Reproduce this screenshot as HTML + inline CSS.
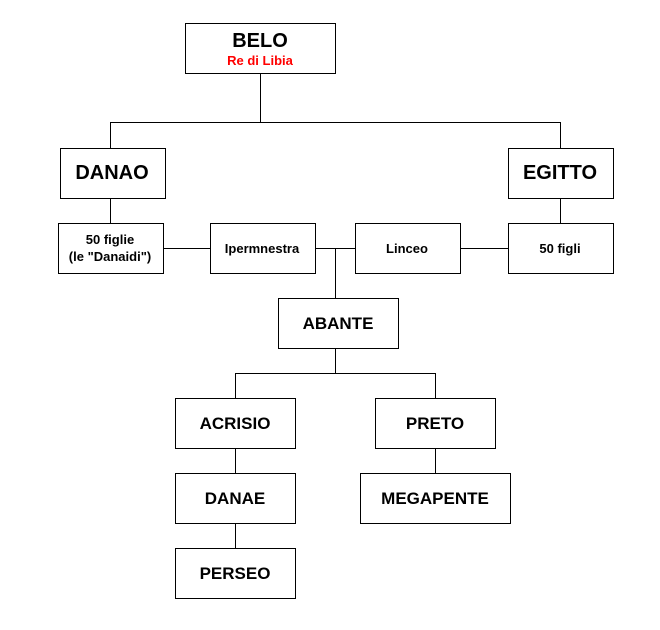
<!DOCTYPE html>
<html><head><meta charset="utf-8"><style>
html,body{margin:0;padding:0;background:#fff;}
svg{display:block;}
text{font-family:"Liberation Sans",Arial,sans-serif;font-weight:bold;text-anchor:middle;}
</style></head><body>
<svg width="660" height="630" viewBox="0 0 660 630" xmlns="http://www.w3.org/2000/svg">
<g stroke="#000" stroke-width="1" fill="none" shape-rendering="crispEdges">
<path d="M260.5 73V122.5M110.5 122.5H560.5M110.5 122V148M560.5 122V148"/>
<path d="M110.5 198V223M560.5 198V223M163 248.5H210M460 248.5H508M315 248.5H355M335.5 248V298"/>
<path d="M335.5 348V373.5M235.5 373.5H435.5M235.5 373V398M435.5 373V398"/>
<path d="M235.5 448V473M235.5 523V548M435.5 448V473"/>
</g>
<g stroke="#000" stroke-width="1" fill="#fff" shape-rendering="crispEdges">
<rect x="185.5" y="23.5" width="150" height="50"/>
<rect x="60.5" y="148.5" width="105" height="50"/>
<rect x="508.5" y="148.5" width="105" height="50"/>
<rect x="58.5" y="223.5" width="105" height="50"/>
<rect x="210.5" y="223.5" width="105" height="50"/>
<rect x="355.5" y="223.5" width="105" height="50"/>
<rect x="508.5" y="223.5" width="105" height="50"/>
<rect x="278.5" y="298.5" width="120" height="50"/>
<rect x="175.5" y="398.5" width="120" height="50"/>
<rect x="375.5" y="398.5" width="120" height="50"/>
<rect x="175.5" y="473.5" width="120" height="50"/>
<rect x="360.5" y="473.5" width="150" height="50"/>
<rect x="175.5" y="548.5" width="120" height="50"/>
</g>
<text x="260" y="47" font-size="20">BELO</text>
<text x="260" y="65" font-size="13" fill="#f00">Re di Libia</text>
<text x="112" y="179" font-size="20">DANAO</text>
<text x="560" y="179" font-size="20">EGITTO</text>
<text x="110" y="244" font-size="13">50 figlie</text>
<text x="110" y="261" font-size="13">(le "Danaidi")</text>
<text x="262" y="253" font-size="13">Ipermnestra</text>
<text x="407" y="253" font-size="13">Linceo</text>
<text x="560" y="253" font-size="13">50 figli</text>
<text x="338" y="329" font-size="17">ABANTE</text>
<text x="235" y="429" font-size="17">ACRISIO</text>
<text x="435" y="429" font-size="17">PRETO</text>
<text x="235" y="504" font-size="17">DANAE</text>
<text x="435" y="504" font-size="17">MEGAPENTE</text>
<text x="235" y="579" font-size="17">PERSEO</text>
</svg>
</body></html>
